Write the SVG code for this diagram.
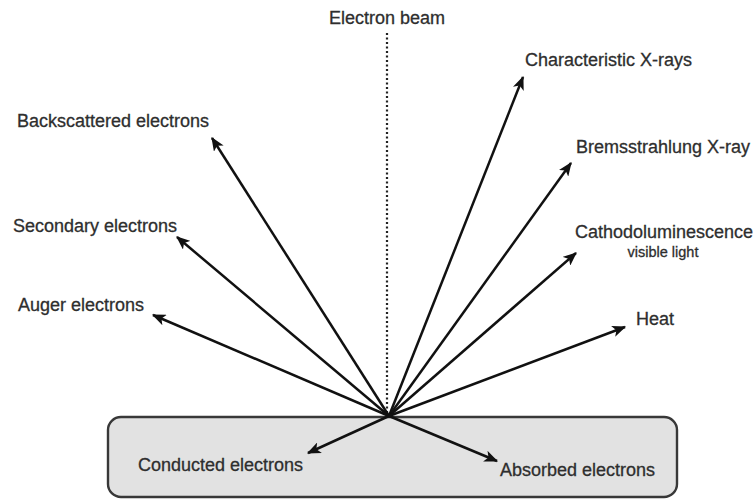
<svg xmlns="http://www.w3.org/2000/svg" width="756" height="499" viewBox="0 0 756 499">
<style>
text{font-family:"Liberation Sans",Arial,sans-serif;font-size:18px;fill:#2e2e2e;stroke:#2e2e2e;stroke-width:0.3}
.small{font-size:14.5px}
.arr{stroke:#111;stroke-width:2.5;fill:none;marker-end:url(#ah)}
</style>
<defs>
<marker id="ah" viewBox="0 0 12 10" refX="11" refY="5" markerWidth="5.6" markerHeight="4.6" orient="auto" markerUnits="strokeWidth">
<path d="M0,0 L12,5 L0,10 L3,5 Z" fill="#111"/>
</marker>
</defs>
<rect width="756" height="499" fill="#fff"/>
<g id="sample">
<rect x="108" y="417" width="569" height="80" rx="13" fill="#e2e2e2" stroke="#383838" stroke-width="2.4"/>
</g>
<g id="beam">
<text x="387" y="24" text-anchor="middle">Electron beam</text>
</g>
<g id="connectors">
<line x1="387" y1="33" x2="387" y2="414" stroke="#222" stroke-width="2.2" stroke-dasharray="2 2.5"/>
<line class="arr" x1="389" y1="416" x2="212" y2="138"/>
<line class="arr" x1="389" y1="416" x2="177" y2="237"/>
<line class="arr" x1="389" y1="416" x2="153" y2="315"/>
<line class="arr" x1="389" y1="416" x2="523" y2="77"/>
<line class="arr" x1="389" y1="416" x2="571" y2="163"/>
<line class="arr" x1="389" y1="416" x2="576" y2="253"/>
<line class="arr" x1="389" y1="416" x2="625" y2="327"/>
<line class="arr" x1="389" y1="416" x2="308" y2="453"/>
<line class="arr" x1="389" y1="416" x2="497" y2="461"/>
</g>
<g id="backscattered"><text x="17" y="127">Backscattered electrons</text></g>
<g id="secondary"><text x="13" y="232">Secondary electrons</text></g>
<g id="auger"><text x="18" y="311">Auger electrons</text></g>
<g id="characteristic"><text x="525" y="66">Characteristic X-rays</text></g>
<g id="bremsstrahlung"><text x="576" y="153">Bremsstrahlung X-ray</text></g>
<g id="cathodoluminescence"><text x="575" y="238">Cathodoluminescence</text><text class="small" x="663" y="257" text-anchor="middle">visible light</text></g>
<g id="heat"><text x="636" y="325">Heat</text></g>
<g id="conducted"><text x="138" y="471">Conducted electrons</text></g>
<g id="absorbed"><text x="500" y="476">Absorbed electrons</text></g>
</svg>
